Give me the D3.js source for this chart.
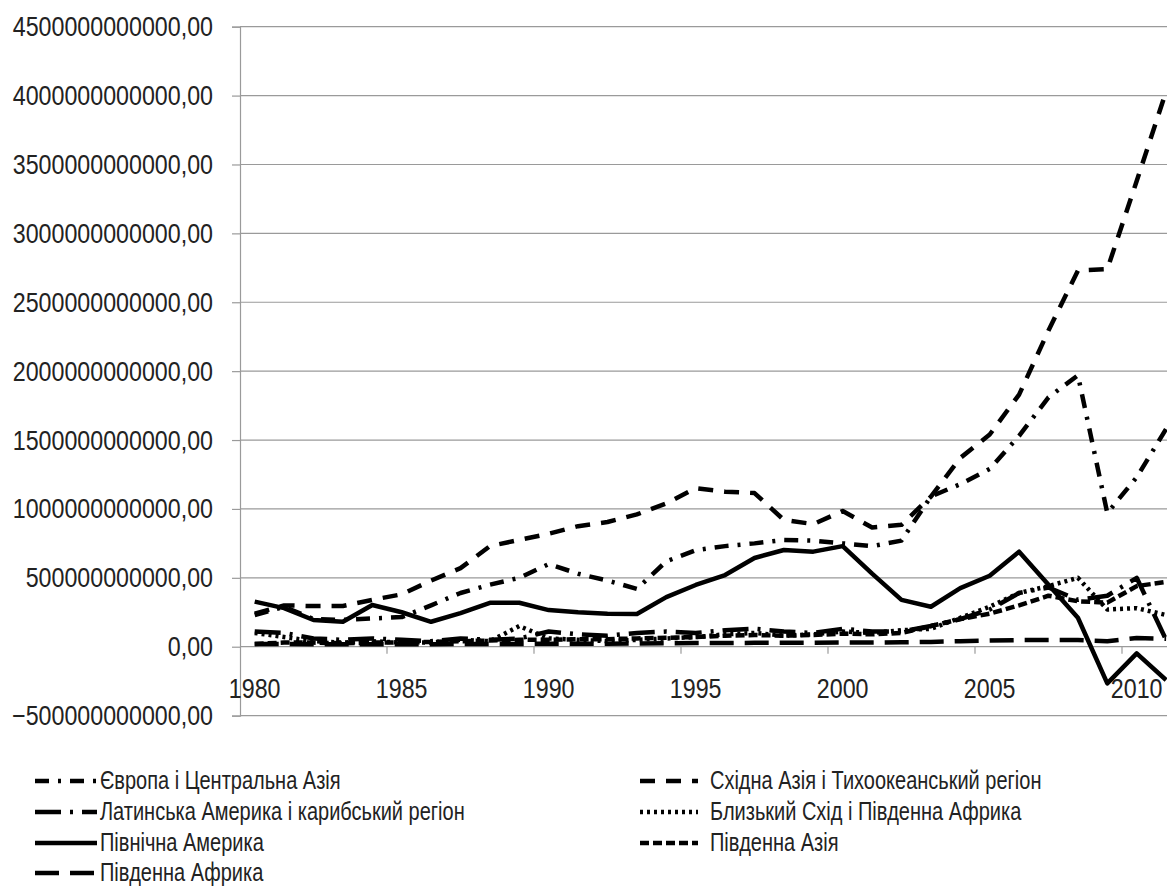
<!DOCTYPE html>
<html><head><meta charset="utf-8">
<script src="https://cdn.jsdelivr.net/npm/d3@7"></script>
<style>
body{margin:0;background:#fff;}
text{font-family:"Liberation Sans","Arial",sans-serif;fill:#222;}
</style></head>
<body><svg id="c" width="1167" height="888"></svg>
<script>
const years = d3.range(1980, 2012);
// values in billions
const europe   = [230,290,200,195,205,215,300,390,450,500,600,530,480,420,620,700,730,750,775,770,750,730,770,1090,1180,1290,1530,1810,1970,970,1230,1580];
const eastAsia = [240,300,295,295,340,380,480,570,730,775,820,875,905,960,1040,1150,1125,1115,920,890,985,865,885,1090,1370,1540,1830,2295,2730,2740,3380,4030];
const latAm    = [110,100,60,50,60,50,40,60,50,60,110,90,80,100,110,100,120,130,110,100,130,110,110,150,200,270,390,430,340,370,500,50];
const midEast  = [100,70,40,30,40,30,30,50,40,150,60,50,40,50,60,70,90,100,80,90,110,100,120,130,210,290,390,440,500,270,280,230];
const northAm  = [327,280,194,181,303,250,181,244,319,319,266,250,240,237,360,448,520,644,702,690,730,530,340,290,425,515,690,450,210,-266,-48,-242];
const southAs  = [20,30,30,25,30,30,35,40,45,50,50,55,55,60,65,70,80,85,80,85,95,90,100,150,200,240,300,370,330,320,440,470];
const southAf  = [20,20,18,18,18,18,18,20,20,20,22,22,22,24,25,27,27,28,28,28,30,30,32,35,40,45,48,48,48,40,63,58];

const seriesNames = ["Європа і Центральна Азія","Східна Азія і Тихоокеанський регіон","Латинська Америка і карибський регіон","Близький Схід і Південна Африка","Північна Америка","Південна Азія","Південна Африка"];
const yTicks = d3.range(-5e11, 4.5e12 + 1, 5e11);
const xLabelYears = years.filter(y => (y - 1980) % 5 === 0);

const series = [
  {name: seriesNames[0], values: europe,   dash: "14 9 3 9", col: 0, row: 0},
  {name: seriesNames[1], values: eastAsia, dash: "15 11",    col: 1, row: 0},
  {name: seriesNames[2], values: latAm,    dash: "26 9 3 9", col: 0, row: 1},
  {name: seriesNames[3], values: midEast,  dash: "3 4",      col: 1, row: 1},
  {name: seriesNames[4], values: northAm,  dash: null,       col: 0, row: 2},
  {name: seriesNames[5], values: southAs,  dash: "9 4",      col: 1, row: 2},
  {name: seriesNames[6], values: southAf,  dash: "24 11",    col: 0, row: 3}
];

const svg = d3.select("#c");
svg.append("rect").attr("width",1167).attr("height",888).attr("fill","#fff");
const left = 240, bw = 29.4;
const x = d3.scaleBand().domain(years).range([left, left + years.length * bw]);
const y = d3.scaleLinear().domain([-5e11, 4.5e12]).range([715.6, 26.7]);
const xc = yr => x(yr) + x.bandwidth() / 2;
const right = x.range()[1];
const SX = 0.83, LSX = 0.8;

// gridlines
svg.append("g").selectAll("line").data(yTicks).join("line")
  .attr("x1", left).attr("x2", right)
  .attr("y1", d => y(d)).attr("y2", d => y(d))
  .attr("stroke", "#9a9a9a").attr("stroke-width", 1.2);

// y axis
const fmt = d => d3.format(".2f")(d).replace(".", ",");
const yAxis = svg.append("g").attr("transform", `translate(${left},0)`)
  .call(d3.axisLeft(y).tickValues(yTicks).tickFormat(fmt).tickSize(8));
yAxis.select(".domain").attr("stroke", "#9a9a9a").attr("stroke-width", 1.2);
yAxis.selectAll(".tick line").attr("stroke", "#9a9a9a").attr("stroke-width", 1.2);
yAxis.selectAll("text").attr("font-size", 28).attr("fill", "#222").attr("x", 0)
  .attr("transform", `translate(-27,0) scale(${SX},1)`)
  .style("font-family", '"Liberation Sans",Arial,sans-serif');

// x axis at zero
const y0 = y(0);
const gx = svg.append("g");
gx.selectAll("line.t").data(years.filter(yr => (yr - 1980) % 5 === 0 && yr > 1980)).join("line")
  .attr("x1", d => x(d)).attr("x2", d => x(d))
  .attr("y1", y0).attr("y2", y0 + 7).attr("stroke", "#9a9a9a").attr("stroke-width", 1.2);
gx.selectAll("text").data(xLabelYears).join("text")
  .attr("transform", d => `translate(${xc(d)},${y0 + 51}) scale(${SX},1)`)
  .attr("text-anchor", "middle")
  .attr("font-size", 28).text(d => d);

// lines
const line = d3.line().x((d, i) => xc(years[i])).y(d => y(d * 1e9));
svg.append("g").selectAll("path").data(series).join("path")
  .attr("d", d => line(d.values))
  .attr("fill", "none").attr("stroke", "#000").attr("stroke-width", 4.5)
  .attr("stroke-linejoin", "round")
  .attr("stroke-dasharray", d => d.dash);

// legend
const lg = svg.append("g");
const colX = [35, 640], symW = [62, 58], rowY = [781, 812, 843, 873];
series.forEach(s => {
  const g = lg.append("g");
  const sx = colX[s.col], sy = rowY[s.row];
  g.append("line").attr("x1", sx).attr("x2", sx + symW[s.col]).attr("y1", sy).attr("y2", sy)
    .attr("stroke", "#000").attr("stroke-width", 4.5).attr("stroke-dasharray", s.dash);
  g.append("text")
    .attr("transform", `translate(${sx + symW[s.col] + (s.col === 1 ? 12 : 3)},${sy + 8}) scale(${LSX},1)`)
    .attr("font-size", 25).text(s.name);
});
</script></body></html>
